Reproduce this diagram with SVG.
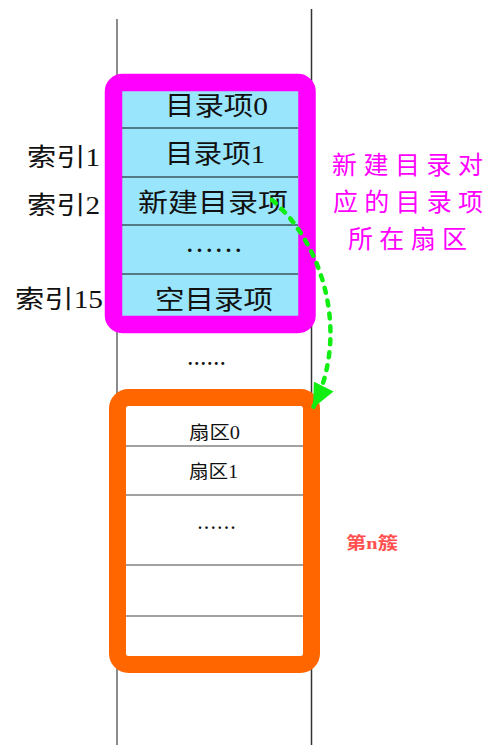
<svg xmlns="http://www.w3.org/2000/svg" width="490" height="745" viewBox="0 0 490 745">
<style>
.t{font-family:"Liberation Serif","Noto Sans CJK SC",serif;fill:#111}
.row{font-size:26px}
.idx{font-size:25px}
.sec{font-size:18px}
.sep{stroke:#111;stroke-width:1.2}
.sep2{stroke:#444;stroke-width:1.2}
.note{font-family:"Noto Sans CJK SC","Noto Sans CJK JP",sans-serif;fill:#ff00ff;font-size:25px}
.dots{font-family:"Liberation Serif",serif;font-weight:bold;fill:#111}
</style>
<defs>
<marker id="ah" markerUnits="userSpaceOnUse" markerWidth="26" markerHeight="22" refX="24" refY="11" orient="auto">
<path d="M0,0 L24,11 L0,22 Z" fill="#11ee11"/>
</marker>
</defs>
<g id="track">
<line x1="117" y1="19" x2="117" y2="745" stroke="#666" stroke-width="1.5"/>
<line x1="311.5" y1="9" x2="311.5" y2="745" stroke="#333" stroke-width="1.5"/>
</g>
<g id="dir-sector">
<rect x="113.5" y="82.5" width="193.5" height="242" rx="9" fill="#99e5fb" stroke="#ff00ff" stroke-width="17.5"/>
<line class="sep" x1="122" y1="128" x2="298" y2="128"/>
<line class="sep" x1="122" y1="177" x2="298" y2="177"/>
<line class="sep" x1="122" y1="225" x2="298" y2="225"/>
<line class="sep" x1="122" y1="274" x2="298" y2="274"/>
<text class="t row" x="165" y="115" textLength="103" lengthAdjust="spacingAndGlyphs">目录项0</text>
<text class="t row" x="165" y="162.5" textLength="100" lengthAdjust="spacingAndGlyphs">目录项1</text>
<text class="t row" x="138" y="212" textLength="150" lengthAdjust="spacingAndGlyphs">新建目录项</text>
<text class="dots" x="187" y="252" font-size="22" textLength="54" lengthAdjust="spacing">......</text>
<text class="t row" x="155" y="309" textLength="118" lengthAdjust="spacingAndGlyphs">空目录项</text>
</g>
<g id="index-labels">
<text class="t idx" x="27" y="166" textLength="73" lengthAdjust="spacingAndGlyphs">索引1</text>
<text class="t idx" x="27" y="214" textLength="73" lengthAdjust="spacingAndGlyphs">索引2</text>
<text class="t idx" x="15" y="308" textLength="88" lengthAdjust="spacingAndGlyphs">索引15</text>
</g>
<g id="gap-dots">
<text class="dots" x="188" y="365" font-size="18" textLength="37" lengthAdjust="spacing">......</text>
</g>
<g id="cluster-n">
<rect x="117.5" y="397.5" width="194" height="267" rx="11" fill="#ffffff" stroke="#ff6600" stroke-width="17"/>
<line class="sep2" x1="126" y1="446" x2="303" y2="446"/>
<line class="sep2" x1="126" y1="495" x2="303" y2="495"/>
<line class="sep2" x1="126" y1="565" x2="303" y2="565"/>
<line class="sep2" x1="126" y1="616" x2="303" y2="616"/>
<text class="t sec" x="189" y="439" textLength="51" lengthAdjust="spacingAndGlyphs">扇区0</text>
<text class="t sec" x="189" y="478" textLength="49" lengthAdjust="spacingAndGlyphs">扇区1</text>
<text class="dots" x="198" y="529" font-size="16" textLength="37" lengthAdjust="spacing">......</text>
</g>
<g id="note">
<text class="note" x="332" y="174" textLength="151" lengthAdjust="spacing">新建目录对</text>
<text class="note" x="333" y="211" textLength="150" lengthAdjust="spacing">应的目录项</text>
<text class="note" x="348" y="248" textLength="119" lengthAdjust="spacing">所在扇区</text>
</g>
<g id="cluster-label">
<text x="346" y="549" font-family="Liberation Serif,Noto Sans CJK SC,serif" font-weight="bold" font-size="17" fill="#ff4f4f" textLength="52" lengthAdjust="spacingAndGlyphs">第n簇</text>
</g>
<g id="connectors">
<path d="M272,200 C320,240 352,330 313,408" fill="none" stroke="#11ee11" stroke-width="4.5" stroke-linecap="round" stroke-dasharray="5 8" marker-end="url(#ah)"/>
</g>
</svg>
